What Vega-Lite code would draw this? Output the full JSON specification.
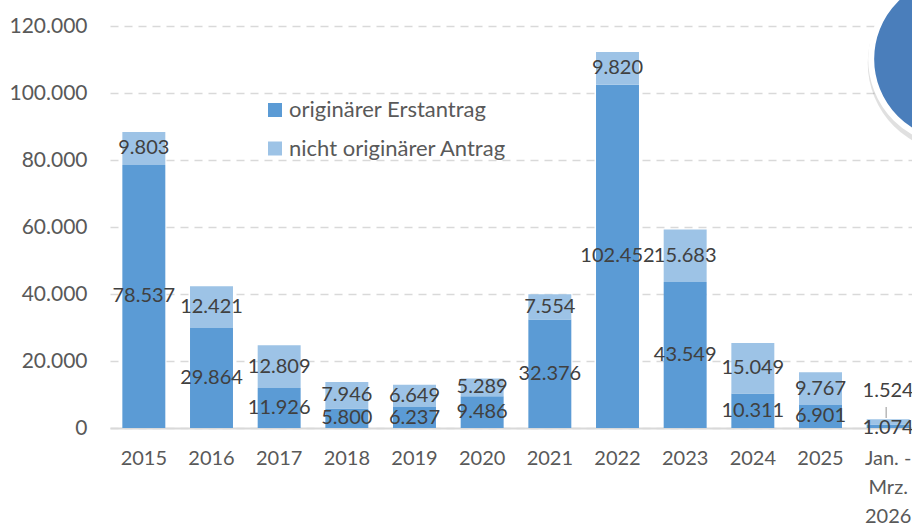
{
  "$schema": "https://vega.github.io/schema/vega-lite/v6.json",
  "width": 812,
  "height": 402,
  "autosize": {"type": "none"},
  "padding": {"left": 110, "top": 26, "right": 0, "bottom": 97},
  "background": "white",
  "config": {
    "view": {"stroke": null},
    "font": "Lato",
    "locale": {"number": {"decimal": ",", "thousands": ".", "grouping": [3], "currency": ["", " €"]}}
  },
  "data": {
    "values": [
      {"jahr": "2015", "typ": "originärer Erstantrag", "wert": 78537},
      {"jahr": "2015", "typ": "nicht originärer Antrag", "wert": 9803},
      {"jahr": "2016", "typ": "originärer Erstantrag", "wert": 29864},
      {"jahr": "2016", "typ": "nicht originärer Antrag", "wert": 12421},
      {"jahr": "2017", "typ": "originärer Erstantrag", "wert": 11926},
      {"jahr": "2017", "typ": "nicht originärer Antrag", "wert": 12809},
      {"jahr": "2018", "typ": "originärer Erstantrag", "wert": 5800},
      {"jahr": "2018", "typ": "nicht originärer Antrag", "wert": 7946},
      {"jahr": "2019", "typ": "originärer Erstantrag", "wert": 6237},
      {"jahr": "2019", "typ": "nicht originärer Antrag", "wert": 6649},
      {"jahr": "2020", "typ": "originärer Erstantrag", "wert": 9486},
      {"jahr": "2020", "typ": "nicht originärer Antrag", "wert": 5289},
      {"jahr": "2021", "typ": "originärer Erstantrag", "wert": 32376},
      {"jahr": "2021", "typ": "nicht originärer Antrag", "wert": 7554},
      {"jahr": "2022", "typ": "originärer Erstantrag", "wert": 102452},
      {"jahr": "2022", "typ": "nicht originärer Antrag", "wert": 9820},
      {"jahr": "2023", "typ": "originärer Erstantrag", "wert": 43549},
      {"jahr": "2023", "typ": "nicht originärer Antrag", "wert": 15683},
      {"jahr": "2024", "typ": "originärer Erstantrag", "wert": 10311},
      {"jahr": "2024", "typ": "nicht originärer Antrag", "wert": 15049},
      {"jahr": "2025", "typ": "originärer Erstantrag", "wert": 6901},
      {"jahr": "2025", "typ": "nicht originärer Antrag", "wert": 9767},
      {"jahr": "Jan. - Mrz. 2026", "typ": "originärer Erstantrag", "wert": 1074},
      {"jahr": "Jan. - Mrz. 2026", "typ": "nicht originärer Antrag", "wert": 1524}
    ]
  },
  "layer": [
    {
      "mark": {"type": "bar"},
      "encoding": {
        "x": {
          "field": "jahr",
          "type": "nominal",
          "scale": {
            "domain": ["2015", "2016", "2017", "2018", "2019", "2020", "2021", "2022", "2023", "2024", "2025", "Jan. - Mrz. 2026"],
            "paddingInner": 0.365,
            "paddingOuter": 0.1825
          },
          "axis": {
            "title": null,
            "labelAngle": 0,
            "labelFontSize": 20,
            "labelColor": "#595959",
            "labelPadding": 20,
            "labelLineHeight": 29,
            "labelExpr": "datum.value == 'Jan. - Mrz. 2026' ? ['Jan. -', 'Mrz.', '2026'] : datum.value",
            "ticks": false,
            "domainColor": "#d9d9d9",
            "domainWidth": 2,
            "grid": false
          }
        },
        "y": {
          "field": "wert",
          "type": "quantitative",
          "stack": "zero",
          "scale": {"domain": [0, 120000], "nice": false},
          "axis": {
            "title": null,
            "values": [0, 20000, 40000, 60000, 80000, 100000, 120000],
            "format": ",d",
            "labelFontSize": 21,
            "labelColor": "#595959",
            "labelPadding": 23,
            "domain": false,
            "ticks": false,
            "gridColor": "#d9d9d9",
            "gridDash": [8, 6],
            "gridWidth": 1.5
          }
        },
        "color": {
          "field": "typ",
          "type": "nominal",
          "scale": {"domain": ["originärer Erstantrag", "nicht originärer Antrag"], "range": ["#5b9bd5", "#9dc3e6"]},
          "legend": {
            "orient": "none",
            "legendX": 154,
            "legendY": 73,
            "title": null,
            "symbolType": "square",
            "symbolSize": 196,
            "symbolStrokeWidth": 0,
            "labelFontSize": 22,
            "labelLimit": 500,
            "labelColor": "#595959",
            "labelOffset": 3,
            "rowPadding": 16.5
          }
        },
        "order": {"field": "typ", "sort": "descending"}
      }
    },
    {
      "transform": [
        {"stack": "wert", "groupby": ["jahr"], "sort": [{"field": "typ", "order": "descending"}], "as": ["v0", "v1"]},
        {"fold": ["v0", "v1"], "as": ["ende", "pos"]},
        {"aggregate": [{"op": "mean", "field": "pos", "as": "mitte"}], "groupby": ["jahr", "typ", "wert"]}
      ],
      "layer": [
        {
          "transform": [{"filter": "datum.jahr != 'Jan. - Mrz. 2026'"}],
          "mark": {"type": "text", "fontSize": 20, "color": "#404040", "baseline": "middle"},
          "encoding": {
            "x": {"field": "jahr", "type": "nominal"},
            "y": {"field": "mitte", "type": "quantitative"},
            "text": {"field": "wert", "type": "quantitative", "format": ",d"}
          }
        },
        {
          "transform": [{"filter": "datum.jahr == 'Jan. - Mrz. 2026' && datum.typ == 'nicht originärer Antrag'"}],
          "mark": {"type": "text", "fontSize": 20, "color": "#404040", "baseline": "middle", "dy": -31},
          "encoding": {
            "x": {"field": "jahr", "type": "nominal"},
            "y": {"field": "mitte", "type": "quantitative"},
            "text": {"field": "wert", "type": "quantitative", "format": ",d"}
          }
        },
        {
          "transform": [{"filter": "datum.jahr == 'Jan. - Mrz. 2026' && datum.typ == 'originärer Erstantrag'"}],
          "mark": {"type": "text", "fontSize": 20, "color": "#404040", "baseline": "middle", "dy": 2},
          "encoding": {
            "x": {"field": "jahr", "type": "nominal"},
            "y": {"field": "mitte", "type": "quantitative"},
            "text": {"field": "wert", "type": "quantitative", "format": ",d"}
          }
        }
      ]
    },
    {
      "data": {"values": [{"hinweis": "1.524"}]},
      "mark": {"type": "rule", "color": "#a6a6a6", "strokeWidth": 1.2, "xOffset": -2},
      "encoding": {
        "x": {"datum": "Jan. - Mrz. 2026", "type": "nominal"},
        "y": {"datum": 6250, "type": "quantitative"},
        "y2": {"datum": 2980}
      }
    },
    {
      "data": {"values": [{"badge": "2026"}]},
      "mark": {"type": "point", "shape": "circle", "filled": true, "size": 32000, "color": "#000000", "opacity": 0.12, "xOffset": 69, "yOffset": 4},
      "encoding": {
        "x": {"datum": "Jan. - Mrz. 2026", "type": "nominal"},
        "y": {"datum": 110150, "type": "quantitative"}
      }
    },
    {
      "data": {"values": [{"badge": "2026"}]},
      "mark": {"type": "point", "shape": "circle", "filled": true, "size": 28224, "color": "#4a7ebb", "opacity": 1, "stroke": "white", "strokeWidth": 6, "strokeOpacity": 1, "xOffset": 67},
      "encoding": {
        "x": {"datum": "Jan. - Mrz. 2026", "type": "nominal"},
        "y": {"datum": 110150, "type": "quantitative"}
      }
    }
  ]
}
